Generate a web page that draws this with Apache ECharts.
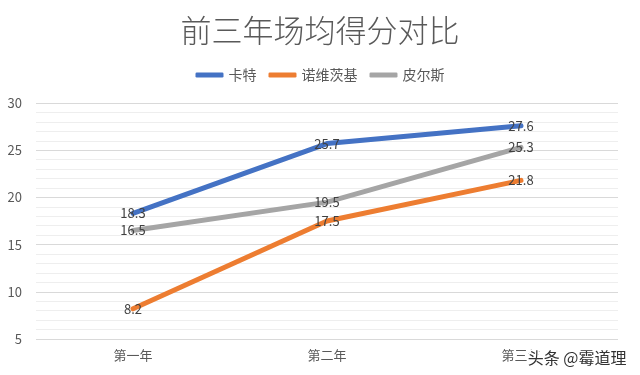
<!DOCTYPE html>
<html>
<head>
<meta charset="utf-8">
<script src="https://cdn.jsdelivr.net/npm/echarts@6/dist/echarts.min.js"></script>
<style>
	html, body { margin: 0; padding: 0; background: #fff; }
	#chart { width: 640px; height: 375px; }
</style>
</head>
<body>
<div id="chart"></div>
<script>
const years = ["第一年", "第二年", "第三年"];
const carter = [18.3, 25.7, 27.6];
const nowitzki = [8.2, 17.5, 21.8];
const pierce = [16.5, 19.5, 25.3];

const font = "'Noto Sans CJK SC', 'Noto Sans', sans-serif";

const lineSeries = (name, data, color) => ({
	name,
	type: "line",
	data,
	symbol: "circle",
	symbolSize: 0,
	showSymbol: true,
	lineStyle: { width: 5, color, cap: "round" },
	itemStyle: { color },
	label: {
		show: true,
		position: "inside",
		color: "#404040",
		fontSize: 13,
		fontFamily: font
	}
});

const chart = echarts.init(document.getElementById("chart"));
chart.setOption({
	animation: false,
	title: {
		text: "前三年场均得分对比",
		left: "center",
		top: 10,
		textStyle: { fontSize: 31, fontWeight: 300, color: "#595959", fontFamily: font }
	},
	legend: {
		top: 63,
		left: "center",
		icon: "roundRect",
		itemWidth: 28,
		itemHeight: 5,
		itemGap: 12,
		textStyle: { fontSize: 14, color: "#595959", fontFamily: font },
		data: ["卡特", "诺维茨基", "皮尔斯"]
	},
	grid: { left: 36, right: 22, top: 103, bottom: 36 },
	xAxis: {
		type: "category",
		data: years,
		axisLine: { show: false },
		axisTick: { show: false },
		axisLabel: { color: "#595959", fontSize: 13, margin: 10, fontFamily: font }
	},
	yAxis: {
		type: "value",
		min: 5,
		max: 30,
		interval: 5,
		axisLine: { show: false },
		axisTick: { show: false },
		axisLabel: { color: "#595959", fontSize: 13, margin: 14, fontFamily: font },
		splitLine: { lineStyle: { color: "#d9d9d9", width: 1 } },
		minorTick: { show: false, splitNumber: 5 },
		minorSplitLine: { show: true, lineStyle: { color: "#eeeeee", width: 1 } }
	},
	series: [
		lineSeries("卡特", carter, "#4472C4"),
		lineSeries("诺维茨基", nowitzki, "#ED7D31"),
		lineSeries("皮尔斯", pierce, "#A5A5A5")
	],
	graphic: [{
		type: "text",
		right: 12,
		bottom: 8,
		z: 100,
		style: {
			text: "头条 @霉道理",
			font: "16px 'Noto Sans CJK SC', sans-serif",
			fill: "#333333",
			stroke: "#ffffff",
			lineWidth: 3
		}
	}]
});
</script>
</body>
</html>
